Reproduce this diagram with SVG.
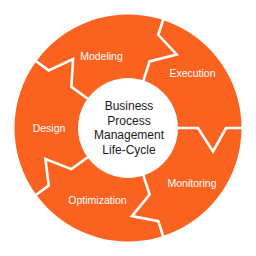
<svg xmlns="http://www.w3.org/2000/svg" xmlns:xlink="http://www.w3.org/1999/xlink" width="256" height="256" viewBox="0 0 256 256">
  <style>
    .ring { fill: #F9621F; }
    .sep { fill: none; stroke: #FFFFFF; stroke-width: 2.6; stroke-linejoin: miter; stroke-miterlimit: 10; }
    .lbl { font-family: "Liberation Sans", Arial, sans-serif; font-size: 10.5px; fill: #FFFFFF; text-anchor: middle; }
    .ctr { font-family: "Liberation Sans", Arial, sans-serif; font-size: 12px; fill: #1A1A1A; text-anchor: middle; }
  </style>
  <defs>
    <polyline id="zig" points="176,128 198,128 213,151.5 226,128 245,128"/>
  </defs>
  <rect width="256" height="256" fill="#FFFFFF"/>
  <g id="ring">
    <path class="ring" fill-rule="evenodd" d="M128,14.5 A113.5,113.5 0 1 1 127.99,14.5 Z M128,78 A50,50 0 1 0 128.01,78 Z"/>
  </g>
  <g id="separators">
    <use xlink:href="#zig" class="sep" transform="rotate(0 128 128)"/>
    <use xlink:href="#zig" class="sep" transform="rotate(72 128 128)"/>
    <use xlink:href="#zig" class="sep" transform="rotate(144 128 128)"/>
    <use xlink:href="#zig" class="sep" transform="rotate(216 128 128)"/>
    <use xlink:href="#zig" class="sep" transform="rotate(288 128 128)"/>
  </g>
  <g id="modeling"><text class="lbl" x="101.5" y="59.5">Modeling</text></g>
  <g id="execution"><text class="lbl" x="192.5" y="76.5">Execution</text></g>
  <g id="monitoring"><text class="lbl" x="192" y="186.5">Monitoring</text></g>
  <g id="optimization"><text class="lbl" x="97.5" y="203.5">Optimization</text></g>
  <g id="design"><text class="lbl" x="49" y="132">Design</text></g>
  <g id="center">
    <text class="ctr" x="129" y="110">Business</text>
    <text class="ctr" x="129" y="124.5">Process</text>
    <text class="ctr" x="129" y="139">Management</text>
    <text class="ctr" x="129" y="153.5">Life-Cycle</text>
  </g>
</svg>
